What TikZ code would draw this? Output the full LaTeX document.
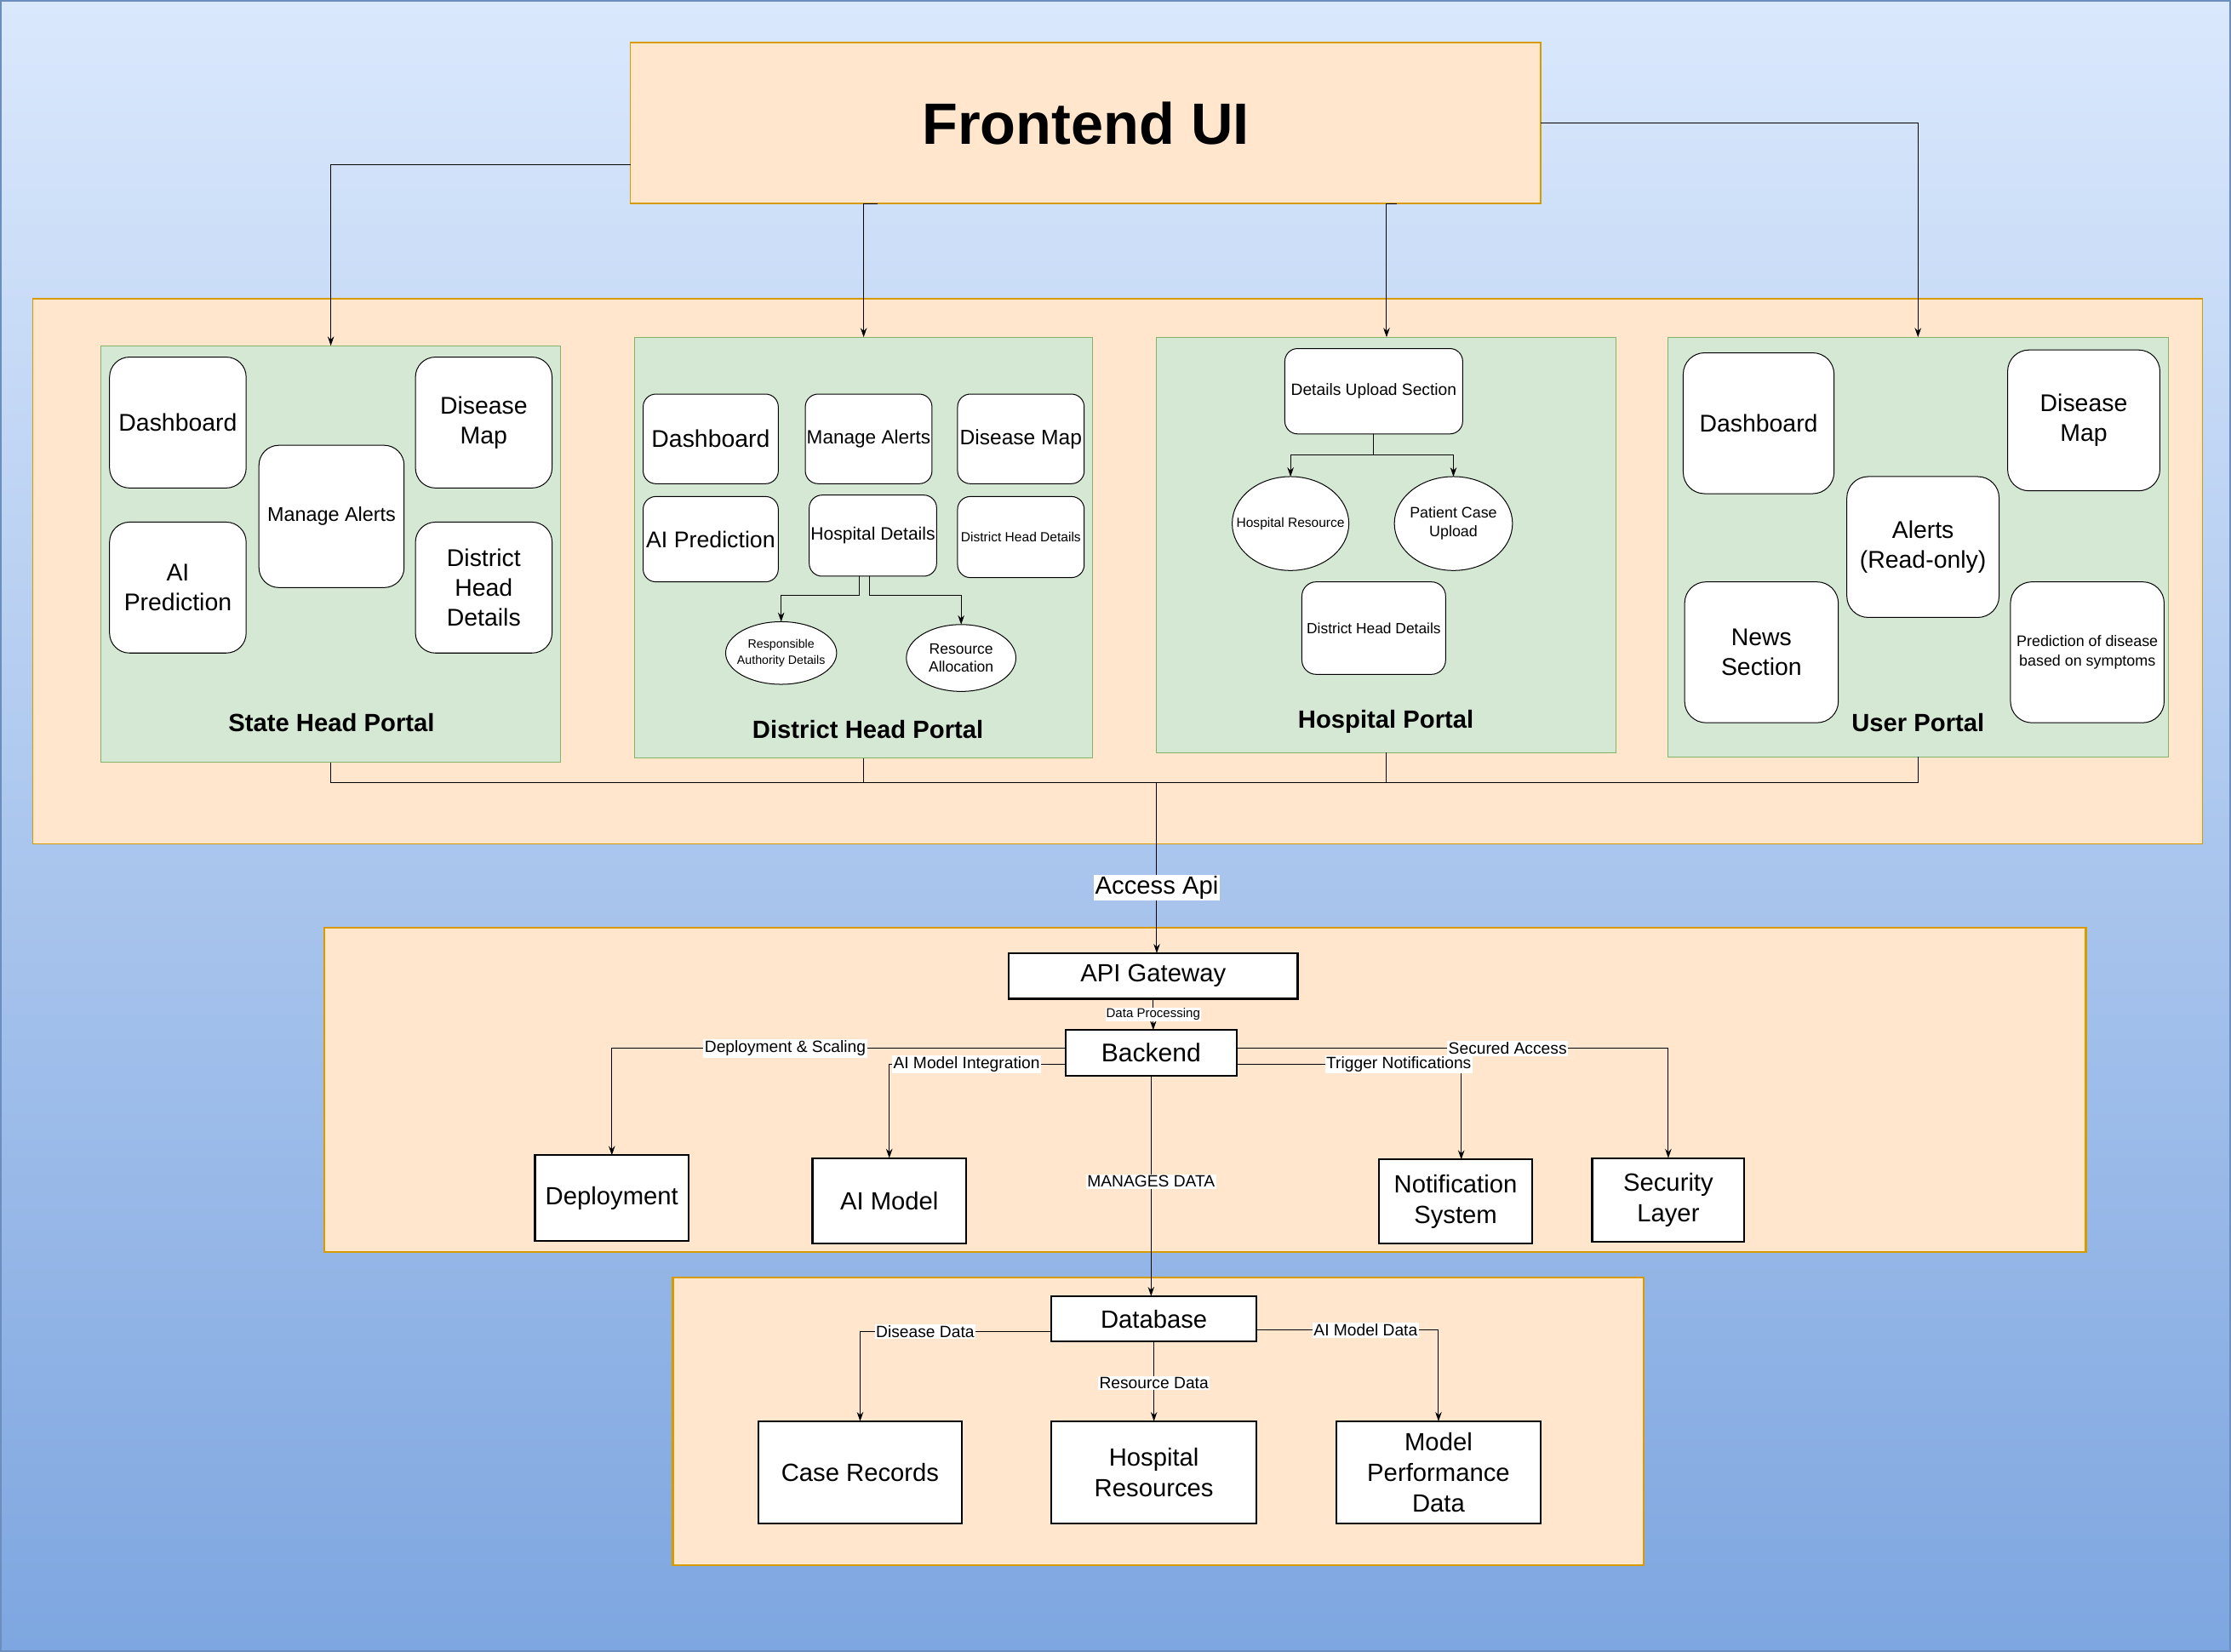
\documentclass[tikz,border=0pt]{standalone}
\usepackage{fontspec}
\setmainfont{Liberation Sans}
\usetikzlibrary{arrows.meta,calc,shapes.geometric}
\definecolor{bgtop}{HTML}{DAE8FC}
\definecolor{bgbot}{HTML}{7EA6E0}
\definecolor{bgline}{HTML}{6C8EBF}
\definecolor{orfill}{HTML}{FFE6CC}
\definecolor{orline}{HTML}{D79B00}
\definecolor{grfill}{HTML}{D5E8D4}
\definecolor{grline}{HTML}{82B366}
\newcommand{\fsz}[2]{\fontsize{#1}{#2}\selectfont}
\begin{document}
\begin{tikzpicture}[x=1pt,y=-1pt,
  sz/.style 2 args={minimum width=#1pt, minimum height=#2pt},
  orbox/.style={draw=orline, fill=orfill, line width=#1, inner sep=0, outer sep=0},
  orbox/.default=0.8pt,
  grbox/.style={draw=grline, fill=grfill, line width=0.6pt, inner sep=0, outer sep=0},
  rbox/.style={draw=black, fill=white, rounded corners=#1, line width=0.6pt, inner sep=1pt, outer sep=0, align=center, font=\fsz{17}{21}},
  rbox/.default=12pt,
  ell/.style={ellipse, draw=black, fill=white, line width=0.6pt, inner sep=0, outer sep=0},
  elltext/.style={inner sep=0, align=center},
  sbox/.style={draw=black, fill=white, line width=1.3pt, inner sep=1pt, outer sep=0, align=center, font=\fsz{17.5}{21.5}},
  ptitle/.style={font=\fsz{17.5}{21}\bfseries, inner sep=0},
  conn/.style={draw=black, line width=0.6pt},
  arr/.style={conn, -{Stealth[length=6.5pt,width=4.5pt]}},
  lbl/.style={fill=white, inner sep=1pt, font=\fsz{11.5}{13}},
]
\useasboundingbox (0,0) rectangle (1568,1161);
\shade[top color=bgtop, bottom color=bgbot, draw=bgline, line width=1.2pt] (0.6,0.6) rectangle (1567.4,1160.4);

% Frontend
\node[orbox=1pt, sz={640}{113}, font=\fsz{41}{48}\bfseries] (fe) at (763,86.5) {Frontend UI};

% top container
\node[orbox, sz={1525}{383}] (topc) at (785.5,401.5) {};

% State Head Portal
\node[grbox, sz={323}{293}] (st) at (232.5,389.5) {};
\node[rbox=14pt, sz={96}{92}] (stdash) at (125,297) {Dashboard};
\node[rbox=14pt, sz={96}{92}] (stmap) at (340,297) {Disease\\Map};
\node[rbox=14pt, sz={102}{100}, font=\fsz{14}{17}] (stalert) at (233,363) {Manage Alerts};
\node[rbox=14pt, sz={96}{92}] (stai) at (125,413) {AI\\Prediction};
\node[rbox=14pt, sz={96}{92}] (stdhd) at (340,413) {District\\Head\\Details};
\node[ptitle] (sttitle) at (233,508) {State Head Portal};

% District Head Portal
\node[grbox, sz={322}{296}] (dt) at (607,385) {};
\node[rbox=9pt, sz={95}{63}] (dtdash) at (499.5,308.5) {Dashboard};
\node[rbox=9pt, sz={89}{63}, font=\fsz{13.5}{16}] (dtalert) at (610.5,308.5) {Manage Alerts};
\node[rbox=9pt, sz={89}{63}, font=\fsz{14.7}{17}] (dtmap) at (717.5,308.5) {Disease Map};
\node[rbox=9pt, sz={95}{60}, font=\fsz{16}{19}] (dtai) at (499.5,379) {AI Prediction};
\node[rbox=9pt, sz={89}{57}, font=\fsz{12.6}{15}] (dhosp) at (613.5,376.5) {Hospital Details};
\node[rbox=9pt, sz={89}{57}, font=\fsz{9.3}{11}] (dtdhd) at (717.5,377.5) {District Head Details};
\node[ell, sz={78}{44}] (dre) at (549,459) {};
\node[elltext, font=\fsz{8.5}{11}] (dretxt) at (dre) {Responsible\\Authority Details};
\node[ell, sz={77}{47}] (dra) at (675.5,462.5) {};
\node[elltext, font=\fsz{10.5}{13}] (dratxt) at (dra) {Resource\\Allocation};
\node[ptitle] (dttitle) at (610,513) {District Head Portal};
\draw[arr] ($(dhosp.south)+(-9.5,0)$) -- ++(0,13.5) -| (dre.north);
\draw[arr] ($(dhosp.south)+(-2.5,0)$) -- ++(0,13.5) -| (dra.north);

% Hospital Portal
\node[grbox, sz={323}{292}] (hp) at (974.5,383) {};
\node[rbox=9pt, sz={125}{60}, font=\fsz{11.5}{14}] (dus) at (965.5,275) {Details Upload Section};
\node[ell, sz={82}{66}] (hres) at (907,368) {};
\node[elltext, font=\fsz{9.3}{12}] (hrestxt) at (hres) {Hospital Resource};
\node[ell, sz={83}{66}] (pcu) at (1021.5,368) {};
\node[elltext, font=\fsz{10.7}{13}] (pcutxt) at (pcu) {Patient Case\\Upload};
\node[rbox=10pt, sz={101}{65}, font=\fsz{10.4}{12}] (hpdhd) at (965.5,441.5) {District Head Details};
\node[ptitle] (hptitle) at (974,507) {Hospital Portal};
\draw[arr] (dus.south) -- ++(0,15) -| (hres.north);
\draw[arr] (dus.south) -- ++(0,15) -| (pcu.north);

% User Portal
\node[grbox, sz={352}{295}] (up) at (1348,384.5) {};
\node[rbox=15pt, sz={106}{99}] (updash) at (1236,297.5) {Dashboard};
\node[rbox=15pt, sz={107}{99}] (upmap) at (1464.5,295.5) {Disease\\Map};
\node[rbox=15pt, sz={107}{99}] (upalert) at (1351.5,384.5) {Alerts\\(Read-only)};
\node[rbox=15pt, sz={108}{99}] (upnews) at (1238,458.5) {News\\Section};
\node[rbox=15pt, sz={108}{99}, font=\fsz{10.7}{14}] (uppred) at (1467,458.5) {Prediction of disease\\based on symptoms};
\node[ptitle] (uptitle) at (1348,508) {User Portal};

% Frontend connectors
\draw[arr] ($(fe.west)+(0,29.5)$) -| (st.north);
\draw[arr] ($(fe.south west)+(174,0)$) -- (dt.north |- fe.south) -- (dt.north);
\draw[arr] ($(fe.south west)+(539,0)$) -- (hp.north |- fe.south) -- (hp.north);
\draw[arr] (fe.east) -| (up.north);

% Middle container
\node[orbox=1.4pt, sz={1238}{228}] (midc) at (847,766) {};
\node[sbox, sz={203}{32}] (api) at (810.5,686) {API Gateway};
\node[sbox, sz={120}{32}, font=\fsz{18}{21}] (be) at (809,740) {Backend};
\node[sbox, sz={108}{60}] (dep) at (430,842) {Deployment};
\node[sbox, sz={108}{60}] (aim) at (625,844) {AI Model};
\node[sbox, sz={108}{59}] (notif) at (1023,844.5) {Notification\\System};
\node[sbox, sz={107}{59}] (sec) at (1172.5,843.5) {Security\\Layer};

% Bottom container
\node[orbox=1.4pt, sz={682}{202}] (botc) at (814,999) {};
\node[sbox, sz={144}{32}] (db) at (811,927) {Database};
\node[sbox, sz={143}{72}] (cr) at (604.5,1035) {Case Records};
\node[sbox, sz={144}{72}] (hr) at (811,1035) {Hospital\\Resources};
\node[sbox, sz={144}{72}] (mp) at (1011,1035) {Model\\Performance\\Data};

% Portal bus to API
\coordinate (j) at (813,550);
\draw[conn] (st.south) |- (j);
\draw[conn] (dt.south) |- (j);
\draw[conn] (hp.south) |- (j);
\draw[conn] (up.south) |- (j);
\draw[arr] (j) -- node[lbl, pos=0.617, font=\fsz{17.5}{20}] {Access Api} (j |- api.north);

% API -> Backend
\draw[arr] (api.south) -- node[lbl, pos=0.5, font=\fsz{9}{10}, inner sep=0.5pt] {Data Processing} (api.south |- be.north);

% Backend edges
\draw[arr] ($(be.west)+(0,-3)$) -| node[lbl, pos=0.309] {Deployment \& Scaling} (dep.north);
\draw[arr] ($(be.west)+(0,8)$) -| node[lbl, pos=0.281] {AI Model Integration} (aim.north);
\draw[arr] ($(be.east)+(0,8)$) -| node[lbl, pos=0.361] {Trigger Notifications} ($(notif.north)+(4,0)$);
\draw[arr] ($(be.east)+(0,-3)$) -| node[lbl, pos=0.314] {Secured Access} (sec.north);
\draw[arr] (be.south) -- node[lbl, pos=0.48] {MANAGES DATA} (be.south |- db.north);

% Database edges
\draw[arr] ($(db.west)+(0,9)$) -| node[lbl, pos=0.33] {Disease Data} (cr.north);
\draw[arr] (db.south) -- node[lbl, pos=0.52] {Resource Data} (hr.north);
\draw[arr] ($(db.east)+(0,8)$) -| node[lbl, pos=0.30] {AI Model Data} (mp.north);
\end{tikzpicture}
\end{document}
